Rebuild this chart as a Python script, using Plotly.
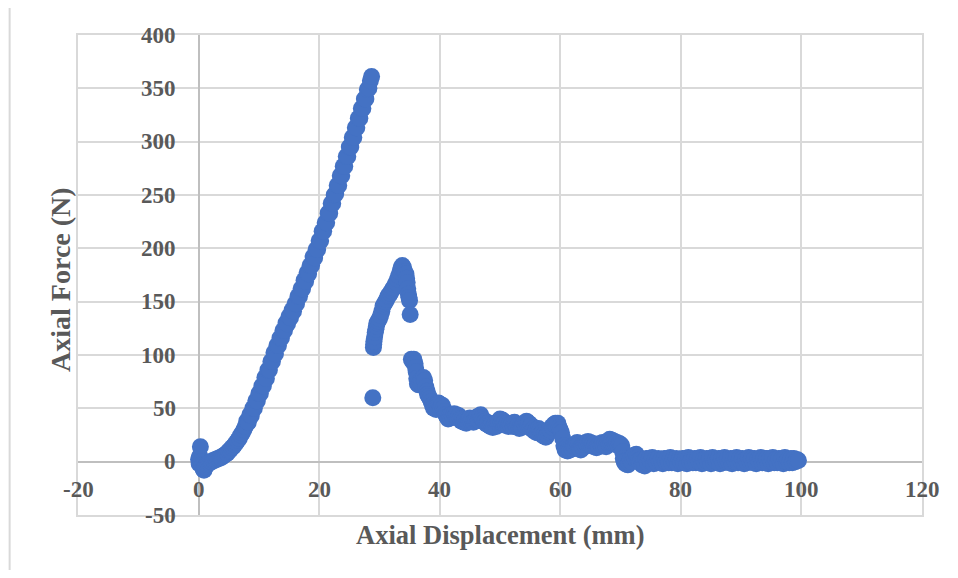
import plotly.graph_objects as go

# Rising (pre-peak) branch
x_rise = [0.0, 0.1, 0.15, 0.2, 0.3, 0.4, 0.5, 0.6, 0.7, 0.8, 0.9, 1.0, 1.1, 1.2, 1.4, 1.6,
          1.8, 2.0, 2.2, 2.4, 2.6, 2.8, 3.0, 3.2, 3.4, 3.6, 3.8,
          4.0, 4.25, 4.5, 4.75, 5.0, 5.25, 5.5, 5.75, 6.0, 6.25, 6.5, 6.75, 7.0, 7.25,
          7.5, 7.75, 8.0, 8.25, 8.5, 8.75, 9.0, 9.25, 9.5, 9.75, 10.0, 10.25, 10.5,
          10.75, 11.0, 11.25, 11.5, 11.75, 12.0, 12.25, 12.5, 12.75, 13.0, 13.25, 13.5,
          13.75, 14.0, 14.25, 14.5, 14.75, 15.0, 15.25, 15.5, 15.75, 16.0, 16.25, 16.5,
          16.75, 17.0, 17.25, 17.5, 17.75, 18.0, 18.25, 18.5, 18.75, 19.0, 19.25, 19.5,
          19.75, 20.0, 20.25, 20.5, 20.75, 21.0, 21.25, 21.5, 21.75, 22.0, 22.25, 22.5,
          22.75, 23.0, 23.25, 23.5, 23.75, 24.0, 24.25, 24.5, 24.75, 25.0, 25.25, 25.5,
          25.75, 26.0, 26.25, 26.5, 26.75, 27.0, 27.25, 27.5, 27.75, 28.0, 28.25, 28.5,
          28.7]
y_rise = [2, -2, 4, 5, 14, 0, -3, -4, -6, -7, -8, -6, -5, -4, -3, -2,
          -1, 0, 0, 1, 1, 2, 2, 3, 3, 4, 4,
          5, 6, 7, 8, 10, 11, 13, 14, 16, 18, 20, 22, 25, 27,
          30, 33, 38, 37, 44, 43, 50, 50, 57, 57, 64, 64, 71,
          71, 79, 78, 86, 86, 94, 94, 102, 101, 109, 109, 116,
          116, 123, 123, 130, 129, 136, 135, 142, 141, 148, 148, 155,
          155, 162, 162, 170, 169, 177, 176, 184, 184, 192, 191, 199,
          199, 207, 207, 216, 216, 224, 224, 233, 233, 242, 242, 250,
          251, 259, 259, 268, 268, 277, 277, 286, 286, 295, 295, 304,
          304, 313, 313, 322, 322, 331, 331, 340, 340, 349, 350, 357,
          361]

# Post-failure branch: second peak and drop
x_peak2 = [28.9, 29.0, 29.05, 29.1, 29.2, 29.3, 29.4, 29.5, 29.6, 29.8,
           30.0, 30.2, 30.4, 30.6, 30.8, 31.0, 31.2, 31.4, 31.6, 31.8,
           32.0, 32.2, 32.4, 32.6, 32.8, 33.0, 33.2, 33.4, 33.6, 33.8,
           34.0, 34.2, 34.4, 34.5, 34.6, 34.7, 34.8, 34.9, 35.0, 35.1,
           35.3, 35.5, 35.7, 35.9, 36.0, 36.1, 36.2, 36.3, 36.5, 36.8,
           37.0, 37.3, 37.5, 37.7, 37.9]
y_peak2 = [60, 107, 110, 113, 117, 121, 124, 127, 130, 132,
           134, 137, 141, 146, 148, 150, 152, 155, 156, 158,
           160, 162, 163, 166, 168, 171, 174, 178, 182, 184,
           182, 178, 176, 172, 168, 162, 157, 154, 151, 138,
           96, 94, 96, 92, 88, 84, 78, 73, 72, 74,
           77, 79, 76, 70, 66]

# Post-failure plateau (38 - 70.2 mm)
x_plateau = [38.0, 38.2, 38.4, 38.6, 38.8, 39.0, 39.2, 39.4, 39.6, 39.8,
             40.0, 40.2, 40.4, 40.6, 40.8, 41.0, 41.2, 41.4, 41.6, 41.8,
             42.0, 42.2, 42.4, 42.6, 42.8, 43.0, 43.2, 43.4, 43.6, 43.8,
             44.0, 44.2, 44.4, 44.6, 44.8, 45.0, 45.2, 45.4, 45.6, 45.8,
             46.0, 46.2, 46.4, 46.6, 46.8, 47.0, 47.2, 47.4, 47.6, 47.8,
             48.0, 48.2, 48.4, 48.6, 48.8, 49.0, 49.2, 49.4, 49.6, 49.8,
             50.0, 50.2, 50.4, 50.6, 50.8, 51.0, 51.2, 51.4, 51.6, 51.8,
             52.0, 52.2, 52.4, 52.6, 52.8, 53.0, 53.2, 53.4, 53.6, 53.8,
             54.0, 54.2, 54.4, 54.6, 54.8, 55.0, 55.2, 55.4, 55.6, 55.8,
             56.0, 56.2, 56.4, 56.6, 56.8, 57.0, 57.2, 57.4, 57.6, 57.8,
             58.0, 58.2, 58.4, 58.6, 58.8, 59.0, 59.2, 59.4, 59.6, 59.8,
             60.0, 60.2, 60.4, 60.6, 60.8, 61.0, 61.2, 61.4, 61.6, 61.8,
             62.0, 62.2, 62.4, 62.6, 62.8, 63.0, 63.2, 63.4, 63.6, 63.8,
             64.0, 64.2, 64.4, 64.6, 64.8, 65.0, 65.2, 65.4, 65.6, 65.8,
             66.0, 66.2, 66.4, 66.6, 66.8, 67.0, 67.2, 67.4, 67.6, 67.8,
             68.0, 68.2, 68.4, 68.6, 68.8, 69.0, 69.2, 69.4, 69.6, 69.8,
             70.0, 70.2]
y_plateau = [63, 61, 59, 56, 53, 50, 52, 49, 53, 55,
             54, 51, 53, 50, 47, 44, 42, 40, 43, 41,
             44, 42, 45, 43, 44, 41, 43, 40, 38, 40,
             37, 39, 36, 38, 40, 41, 38, 40, 37, 39,
             40, 42, 39, 43, 44, 41, 39, 37, 38, 35,
             36, 34, 33, 35, 32, 34, 36, 33, 37, 38,
             40, 37, 39, 36, 37, 34, 36, 33, 35, 34,
             36, 33, 37, 35, 33, 34, 31, 33, 32, 35,
             36, 34, 38, 35, 36, 33, 34, 30, 31, 28,
             30, 27, 31, 29, 26, 27, 24, 26, 23, 25,
             28, 30, 29, 33, 32, 35, 36, 34, 36, 32,
             30, 27, 22, 15, 11, 13, 10, 12, 11, 13,
             12, 15, 14, 17, 18, 16, 12, 11, 14, 13,
             16, 18, 17, 19, 16, 18, 15, 17, 14, 16,
             13, 15, 14, 17, 16, 18, 15, 17, 14, 18,
             19, 21, 18, 20, 17, 19, 16, 18, 15, 17,
             16, 15]

# Final drop to residual force
x_drop = [70.35, 70.45, 70.6, 70.8, 71.0, 71.2, 71.4, 71.6, 71.8, 72.0,
          72.2, 72.4, 72.6, 72.8, 73.0, 73.2, 73.4, 73.6, 73.8, 74.0]
y_drop = [9, 3, 0, -2, 1, -3, -1, 2, 0, 4,
          6, 3, 7, 4, 1, -1, 2, -3, 0, -4]

# Residual (flat) branch
x_flat = [74.25, 74.5, 74.75, 75.0, 75.25, 75.5, 75.75, 76.0, 76.25, 76.5,
          76.75, 77.0, 77.25, 77.5, 77.75, 78.0, 78.25, 78.5, 78.75, 79.0,
          79.25, 79.5, 79.75, 80.0, 80.25, 80.5, 80.75, 81.0, 81.25, 81.5,
          81.75, 82.0, 82.25, 82.5, 82.75, 83.0, 83.25, 83.5, 83.75, 84.0,
          84.25, 84.5, 84.75, 85.0, 85.25, 85.5, 85.75, 86.0, 86.25, 86.5,
          86.75, 87.0, 87.25, 87.5, 87.75, 88.0, 88.25, 88.5, 88.75, 89.0,
          89.25, 89.5, 89.75, 90.0, 90.25, 90.5, 90.75, 91.0, 91.25, 91.5,
          91.75, 92.0, 92.25, 92.5, 92.75, 93.0, 93.25, 93.5, 93.75, 94.0,
          94.25, 94.5, 94.75, 95.0, 95.25, 95.5, 95.75, 96.0, 96.25, 96.5,
          96.75, 97.0, 97.25, 97.5, 97.75, 98.0, 98.25, 98.5, 98.75, 99.0,
          99.25, 99.5]
y_flat = [3, -1, 3, 0, 4, -2, 2, -1, 3, 0,
          2, -2, 3, 0, 3, -1, 4, -1, 2, 0,
          3, -2, 2, 0, 3, -1, 3, -2, 4, 0,
          2, -1, 3, -1, 3, 0, 4, -2, 2, -1,
          3, 0, 3, -2, 4, -1, 2, 0, 3, -2,
          3, -1, 4, 0, 2, -1, 3, -2, 3, 0,
          4, -1, 3, 0, 3, -2, 2, -1, 4, 0,
          3, -1, 3, -2, 2, 0, 4, -1, 3, -1,
          3, -2, 3, 0, 4, -1, 2, -1, 3, 0,
          3, -2, 4, 0, 2, -1, 3, -1, 3, 0,
          2, 1]

x_vals = x_rise + x_peak2 + x_plateau + x_drop + x_flat
y_vals = y_rise + y_peak2 + y_plateau + y_drop + y_flat
assert len(x_vals) == len(y_vals)

x_ticks = [-20, 0, 20, 40, 60, 80, 100, 120]
y_ticks = [-50, 0, 50, 100, 150, 200, 250, 300, 350, 400]

x_title = "Axial Displacement (mm)"
y_title = "Axial Force (N)"

FONT = "Liberation Serif, Times New Roman, serif"
TXT = "#595959"
GRID = "#d9d9d9"

fig = go.Figure()
fig.add_trace(go.Scatter(
    x=x_vals, y=y_vals, mode="markers",
    marker=dict(size=17, color="#4472C4", line=dict(width=0)),
    showlegend=False, hoverinfo="x+y",
))

annotations = []
for t in x_ticks:
    annotations.append(dict(x=t, y=0, xref="x", yref="y", text=f"<b>{t}</b>",
                            showarrow=False, xanchor="center", yanchor="middle",
                            yshift=-28, font=dict(family=FONT, size=23, color=TXT)))
for t in y_ticks:
    annotations.append(dict(x=0, y=t, xref="x", yref="y", text=f"<b>{t}</b>",
                            showarrow=False, xanchor="right", yanchor="middle",
                            xshift=-21, font=dict(family=FONT, size=23, color=TXT)))
annotations.append(dict(x=0.5, y=-0.041, xref="paper", yref="paper",
                        text=f"<b>{x_title}</b>", showarrow=False,
                        xanchor="center", yanchor="middle",
                        font=dict(family=FONT, size=26.5, color=TXT)))
annotations.append(dict(x=-0.020, y=0.490, xref="paper", yref="paper",
                        text=f"<b>{y_title}</b>", showarrow=False, textangle=-90,
                        xanchor="center", yanchor="middle",
                        font=dict(family=FONT, size=28, color=TXT)))

# page body has an 8px margin: figure is sized / offset to compensate
fig.update_layout(
    width=942, height=562,
    margin=dict(l=70, r=28, t=27, b=55),
    paper_bgcolor="white", plot_bgcolor="white",
    annotations=annotations,
    shapes=[
        dict(type="line", xref="paper", yref="paper", x0=-0.081, x1=-0.081,
             y0=1.0605, y1=-0.2, line=dict(color=GRID, width=2)),
        dict(type="line", xref="paper", yref="paper", x0=-0.081, x1=1.2,
             y0=1.0605, y1=1.0605, line=dict(color=GRID, width=2)),
    ],
)
fig.update_xaxes(range=[-20, 120], tickvals=x_ticks, showticklabels=False,
                 showgrid=True, gridcolor=GRID, gridwidth=1.5,
                 zeroline=True, zerolinecolor="#bfbfbf", zerolinewidth=2,
                 showline=True, mirror=True, linecolor=GRID, linewidth=1.5,
                 ticks="", fixedrange=True)
fig.update_yaxes(range=[-50, 400], tickvals=y_ticks, showticklabels=False,
                 showgrid=True, gridcolor=GRID, gridwidth=1.5,
                 zeroline=True, zerolinecolor="#bfbfbf", zerolinewidth=2,
                 showline=True, mirror=True, linecolor=GRID, linewidth=1.5,
                 ticks="", fixedrange=True)

fig.write_html("out.html")
